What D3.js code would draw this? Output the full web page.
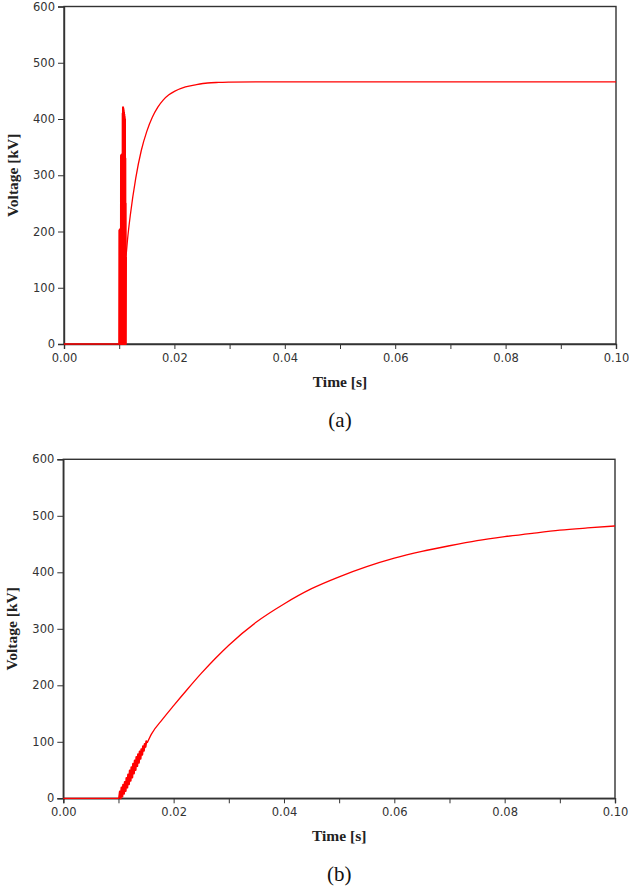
<!DOCTYPE html>
<html>
<head>
<meta charset="utf-8">
<script src="https://cdn.jsdelivr.net/npm/d3@7"></script>
<style>
  body { margin: 0; background: #fff; }
  .tick text { font-family: "DejaVu Sans", Verdana, sans-serif; font-size: 11.5px; fill: #333; }
  .title { font-family: "Liberation Serif", "Times New Roman", serif; font-weight: bold; font-size: 15.5px; fill: #222; }
  .caption { font-family: "Liberation Serif", "Times New Roman", serif; font-size: 21px; fill: #111; }
</style>
</head>
<body>
<svg id="chart" width="629" height="890"></svg>
<script>
'use strict';

// axis ticks
var timeTicks = [0, 0.01, 0.02, 0.03, 0.04, 0.05, 0.06, 0.07, 0.08, 0.09, 0.10];
var timeLabels = [0, 0.02, 0.04, 0.06, 0.08, 0.10];
var voltTicks = [0, 100, 200, 300, 400, 500, 600];

// (a) flat part before switching
var aFlat = [[0, 0], [0.0100, 0]];
// (a) fast ringing right after switching
var aSpike = [
  [0.01000, 0], [0.01003, 202], [0.01006, 0], [0.01009, 203], [0.01012, 0], [0.01015, 204],
  [0.01018, 0], [0.01021, 204], [0.01024, 0], [0.01027, 205], [0.01030, 0], [0.01033, 335],
  [0.01036, 0], [0.01039, 336], [0.01042, 0], [0.01045, 337], [0.01048, 0], [0.01051, 337],
  [0.01054, 0], [0.01057, 338], [0.01060, 0], [0.01063, 410], [0.01066, 0], [0.01069, 421],
  [0.01072, 0], [0.01075, 419], [0.01078, 0], [0.01081, 416], [0.01084, 0], [0.01087, 412],
  [0.01090, 0], [0.01093, 408], [0.01096, 0], [0.01099, 404], [0.01102, 0], [0.01105, 400],
  [0.01108, 0], [0.01111, 330], [0.01114, 0], [0.01117, 250], [0.01120, 0], [0.01123, 155]
];
// (a) recovery curve
var aCurve = [
  [0.01123, 155], [0.0115, 185], [0.0120, 228], [0.0130, 295], [0.0140, 344], [0.0150, 378],
  [0.0160, 403], [0.0170, 421], [0.0180, 434], [0.0190, 443], [0.0200, 449], [0.0220, 457],
  [0.0240, 461], [0.0260, 464], [0.0280, 465], [0.0300, 465.5], [0.0350, 466], [0.1000, 466]
];

// (b) flat part
var bFlat = [[0, 0], [0.0101, 0]];
// (b) ringing band at the start of the rise
var bBand = [
  [0.01010, 0], [0.01025, 12], [0.01040, 0], [0.01055, 19], [0.01070, 3], [0.01085, 24],
  [0.01100, 8], [0.01115, 29], [0.01130, 13], [0.01145, 36], [0.01160, 19], [0.01175, 42],
  [0.01190, 25], [0.01205, 49], [0.01220, 31], [0.01235, 55], [0.01250, 37], [0.01265, 61],
  [0.01280, 44], [0.01295, 67], [0.01310, 50], [0.01325, 73], [0.01340, 57], [0.01355, 78],
  [0.01370, 63], [0.01385, 83], [0.01400, 70], [0.01415, 87], [0.01430, 77], [0.01445, 92],
  [0.01460, 84], [0.01475, 96], [0.01490, 91], [0.01505, 101], [0.01520, 98]
];
// (b) slow charging curve
var bCurve = [
  [0.0152, 98], [0.0160, 114], [0.0180, 140], [0.0200, 164], [0.0225, 193], [0.0250, 221],
  [0.0275, 247], [0.0300, 271], [0.0350, 312], [0.0400, 344], [0.0450, 371], [0.0500, 392],
  [0.0550, 410], [0.0600, 425], [0.0650, 437], [0.0700, 447], [0.0750, 456], [0.0800, 463],
  [0.0850, 469], [0.0900, 474.5], [0.0950, 478.5], [0.1000, 482]
];

var svg = d3.select("#chart");

function drawPanel(box, curves, band, caption) {
  var x = d3.scaleLinear().domain([0, 0.1]).range([box.left, box.right]);
  var y = d3.scaleLinear().domain([0, 600]).range([box.bottom, box.top]);

  var g = svg.append("g");

  // frame
  g.append("rect")
    .attr("x", box.left).attr("y", box.top)
    .attr("width", box.right - box.left).attr("height", box.bottom - box.top)
    .attr("fill", "none").attr("stroke", "#333").attr("stroke-width", 1.4);

  var xAxis = g.append("g")
    .attr("transform", "translate(0," + box.bottom + ")")
    .call(d3.axisBottom(x).tickValues(timeTicks).tickSize(5).tickPadding(5)
      .tickFormat(function(d) {
        return timeLabels.some(function(l){ return Math.abs(l - d) < 1e-9; }) ? d3.format(".2f")(d) : "";
      }));
  xAxis.select(".domain").attr("stroke", "#333").attr("stroke-width", 1.4);
  xAxis.selectAll(".tick line").attr("stroke", "#333");

  var yAxis = g.append("g")
    .attr("transform", "translate(" + box.left + ",0)")
    .call(d3.axisLeft(y).tickValues(voltTicks).tickSize(6).tickPadding(3).tickFormat(d3.format("d")));
  yAxis.select(".domain").attr("stroke", "#333").attr("stroke-width", 1.4);
  yAxis.selectAll(".tick line").attr("stroke", "#333");

  var line = d3.line()
    .x(function(d){ return x(d[0]); })
    .y(function(d){ return y(d[1]); });

  var smooth = d3.line()
    .x(function(d){ return x(d[0]); })
    .y(function(d){ return y(d[1]); })
    .curve(d3.curveMonotoneX);

  curves.forEach(function(s) {
    g.append("path").datum(s)
      .attr("d", smooth)
      .attr("fill", "none")
      .attr("stroke", "#ff0000")
      .attr("stroke-width", 1.3)
      .attr("stroke-linejoin", "round");
  });

  // dense ringing drawn a bit heavier so it reads as a solid block
  g.append("path").datum(band)
    .attr("d", line)
    .attr("fill", "none")
    .attr("stroke", "#ff0000")
    .attr("stroke-width", 2)
    .attr("stroke-linejoin", "round");

  g.append("text").attr("class", "title")
    .attr("transform", "translate(" + (box.left - 46) + "," + ((box.top + box.bottom) / 2) + ") rotate(-90)")
    .attr("text-anchor", "middle")
    .text("Voltage [kV]");

  g.append("text").attr("class", "title")
    .attr("x", (box.left + box.right) / 2).attr("y", box.bottom + 43)
    .attr("text-anchor", "middle")
    .text("Time [s]");

  g.append("text").attr("class", "caption")
    .attr("x", (box.left + box.right) / 2).attr("y", box.bottom + 83)
    .attr("text-anchor", "middle")
    .text(caption);
}

drawPanel({left: 64, right: 616, top: 6.5, bottom: 344}, [aFlat, aCurve], aSpike, "(a)");
drawPanel({left: 63.3, right: 615, top: 459.3, bottom: 798.3}, [bFlat, bCurve], bBand, "(b)");
</script>
</body>
</html>
